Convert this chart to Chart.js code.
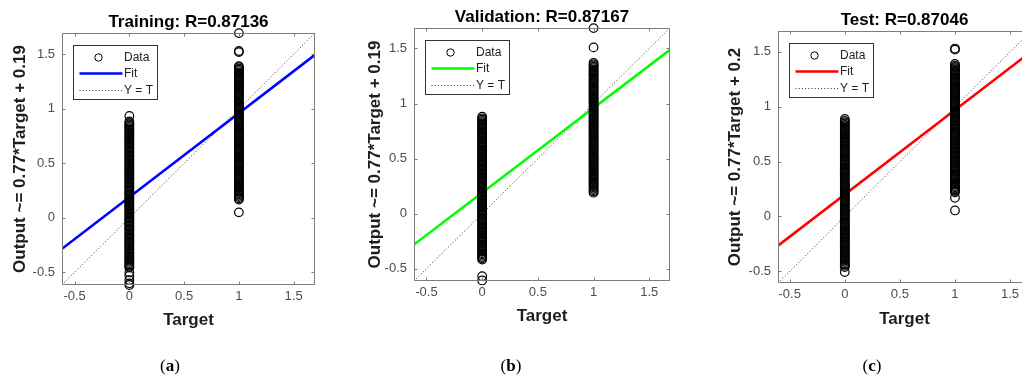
<!DOCTYPE html>
<html>
<head>
<meta charset="utf-8">
<script src="https://cdn.jsdelivr.net/npm/chart.js@4.4.1/dist/chart.umd.min.js"></script>
<style>
  html, body { margin: 0; padding: 0; background: #fff; width: 1022px; height: 383px; overflow: hidden; position: relative; }
  canvas { position: absolute; top: 0; }
  .cap { position: absolute; top: 356px; font: 17px "Liberation Serif", "DejaVu Serif", serif; color: #000; transform: translateX(-50%); }
</style>
</head>
<body>
<canvas id="pa" width="340" height="383" style="left:0"></canvas>
<canvas id="pb" width="340" height="383" style="left:340px"></canvas>
<canvas id="pc" width="360" height="383" style="left:680px"></canvas>
<div class="cap" style="left:170px">(<b>a</b>)</div>
<div class="cap" style="left:511px">(<b>b</b>)</div>
<div class="cap" style="left:872px">(<b>c</b>)</div>
<script>
// regression plots: outputs vs targets for training / validation / test
const targets = [0, 1];
const tickValues = [-0.5, 0, 0.5, 1, 1.5];
const panelTitles = ['Training: R=0.87136', 'Validation: R=0.87167', 'Test: R=0.87046'];
const yAxisTitles = ['Output ~= 0.77*Target + 0.19', 'Output ~= 0.77*Target + 0.19', 'Output ~= 0.77*Target + 0.2'];
const fitSlopes = [0.77, 0.77, 0.77];
const fitIntercepts = [0.19, 0.19, 0.2];
const axisMin = [-0.615, -0.612, -0.606];
const axisMax = [1.695, 1.686, 1.69];

// outputs for target = 0 and target = 1 (columns are dense)
const trainOut0 = [-0.615, -0.60, -0.57, -0.53, -0.50,
  -0.455, -0.447, -0.436, -0.424, -0.413, -0.401, -0.39, -0.378, -0.365, -0.355, -0.342, -0.33, -0.319, -0.307, -0.294,
  -0.283, -0.271, -0.258, -0.248, -0.235, -0.223, -0.212, -0.2, -0.187, -0.176, -0.164, -0.151, -0.141, -0.128, -0.116,
  -0.105, -0.093, -0.08, -0.069, -0.057, -0.044, -0.034, -0.021, -0.009, 0.002, 0.014, 0.027, 0.038, 0.05, 0.063, 0.073,
  0.086, 0.098, 0.109, 0.121, 0.134, 0.145, 0.157, 0.17, 0.18, 0.193, 0.205, 0.216, 0.228, 0.241, 0.252, 0.264, 0.277,
  0.287, 0.3, 0.312, 0.323, 0.335, 0.348, 0.359, 0.371, 0.384, 0.394, 0.407, 0.419, 0.43, 0.442, 0.455, 0.466, 0.478,
  0.491, 0.501, 0.514, 0.526, 0.537, 0.549, 0.562, 0.573, 0.585, 0.598, 0.608, 0.621, 0.633, 0.644, 0.656, 0.669, 0.68,
  0.692, 0.705, 0.715, 0.728, 0.74, 0.751, 0.763, 0.776, 0.787, 0.799, 0.812, 0.822, 0.835, 0.847, 0.858, 0.87, 0.885,
  0.935];
const trainOut1 = [0.051,
  0.168, 0.179, 0.191, 0.203, 0.214, 0.226, 0.238, 0.249, 0.261, 0.273, 0.284, 0.296, 0.308, 0.319, 0.331, 0.343, 0.354,
  0.366, 0.378, 0.389, 0.401, 0.413, 0.424, 0.436, 0.448, 0.459, 0.471, 0.483, 0.494, 0.506, 0.518, 0.529, 0.541, 0.553,
  0.564, 0.576, 0.588, 0.599, 0.611, 0.623, 0.634, 0.646, 0.658, 0.669, 0.681, 0.693, 0.704, 0.716, 0.728, 0.739, 0.751,
  0.763, 0.774, 0.786, 0.798, 0.809, 0.821, 0.833, 0.844, 0.856, 0.868, 0.879, 0.891, 0.903, 0.914, 0.926, 0.938, 0.949,
  0.961, 0.973, 0.984, 0.996, 1.008, 1.019, 1.031, 1.043, 1.054, 1.066, 1.078, 1.089, 1.101, 1.113, 1.124, 1.136, 1.148,
  1.159, 1.171, 1.183, 1.194, 1.206, 1.218, 1.229, 1.241, 1.253, 1.264, 1.276, 1.288, 1.299, 1.311, 1.323, 1.334, 1.346,
  1.358, 1.369, 1.381, 1.39,
  1.52, 1.53, 1.694];
const valOut0 = [-0.607, -0.568,
  -0.417, -0.405, -0.394, -0.382, -0.37, -0.359, -0.347, -0.335, -0.324, -0.312, -0.3, -0.289, -0.277, -0.265, -0.254,
  -0.242, -0.23, -0.219, -0.207, -0.195, -0.184, -0.172, -0.16, -0.149, -0.137, -0.125, -0.114, -0.102, -0.09, -0.079,
  -0.067, -0.055, -0.044, -0.032, -0.02, -0.009, 0.003, 0.015, 0.026, 0.038, 0.05, 0.061, 0.073, 0.085, 0.096, 0.108,
  0.12, 0.131, 0.143, 0.155, 0.166, 0.178, 0.19, 0.201, 0.213, 0.225, 0.236, 0.248, 0.26, 0.271, 0.283, 0.295, 0.306,
  0.318, 0.33, 0.341, 0.353, 0.365, 0.376, 0.388, 0.4, 0.411, 0.423, 0.435, 0.446, 0.458, 0.47, 0.481, 0.493, 0.505,
  0.516, 0.528, 0.54, 0.551, 0.563, 0.575, 0.586, 0.598, 0.61, 0.621, 0.633, 0.645, 0.656, 0.668, 0.68, 0.691, 0.703,
  0.715, 0.726, 0.738, 0.75, 0.761, 0.773, 0.785, 0.796, 0.808, 0.82, 0.831, 0.843, 0.855, 0.866, 0.88];
const valOut1 = [
  0.19, 0.202, 0.213, 0.225, 0.237, 0.248, 0.26, 0.272, 0.283, 0.295, 0.307, 0.318, 0.33, 0.342, 0.353, 0.365, 0.377,
  0.388, 0.4, 0.412, 0.423, 0.435, 0.447, 0.458, 0.47, 0.482, 0.493, 0.505, 0.517, 0.528, 0.54, 0.552, 0.563, 0.575,
  0.587, 0.598, 0.61, 0.622, 0.633, 0.645, 0.657, 0.668, 0.68, 0.692, 0.703, 0.715, 0.727, 0.738, 0.75, 0.762, 0.773,
  0.785, 0.797, 0.808, 0.82, 0.832, 0.843, 0.855, 0.867, 0.878, 0.89, 0.902, 0.913, 0.925, 0.937, 0.948, 0.96, 0.972,
  0.983, 0.995, 1.007, 1.018, 1.03, 1.042, 1.053, 1.065, 1.077, 1.088, 1.1, 1.112, 1.123, 1.135, 1.147, 1.158, 1.17,
  1.182, 1.193, 1.205, 1.217, 1.228, 1.24, 1.252, 1.263, 1.275, 1.287, 1.298, 1.31, 1.322, 1.333, 1.345, 1.357, 1.37,
  1.51, 1.685];
const testOut0 = [-0.506,
  -0.46, -0.448, -0.437, -0.425, -0.413, -0.402, -0.39, -0.378, -0.367, -0.355, -0.343, -0.332, -0.32, -0.308, -0.297,
  -0.285, -0.273, -0.262, -0.25, -0.238, -0.227, -0.215, -0.203, -0.192, -0.18, -0.168, -0.157, -0.145, -0.133, -0.122,
  -0.11, -0.098, -0.087, -0.075, -0.063, -0.052, -0.04, -0.028, -0.017, -0.005, 0.007, 0.018, 0.03, 0.042, 0.053, 0.065,
  0.077, 0.088, 0.1, 0.112, 0.123, 0.135, 0.147, 0.158, 0.17, 0.182, 0.193, 0.205, 0.217, 0.228, 0.24, 0.252, 0.263,
  0.275, 0.287, 0.298, 0.31, 0.322, 0.333, 0.345, 0.357, 0.368, 0.38, 0.392, 0.403, 0.415, 0.427, 0.438, 0.45, 0.462,
  0.473, 0.485, 0.497, 0.508, 0.52, 0.532, 0.543, 0.555, 0.567, 0.578, 0.59, 0.602, 0.613, 0.625, 0.637, 0.648, 0.66,
  0.672, 0.683, 0.695, 0.707, 0.718, 0.73, 0.742, 0.753, 0.765, 0.777, 0.788, 0.8, 0.812, 0.823, 0.835, 0.847, 0.858,
  0.87, 0.888];
const testOut1 = [0.055, 0.17,
  0.22, 0.232, 0.243, 0.255, 0.267, 0.278, 0.29, 0.302, 0.313, 0.325, 0.337, 0.348, 0.36, 0.372, 0.383, 0.395, 0.407,
  0.418, 0.43, 0.442, 0.453, 0.465, 0.477, 0.488, 0.5, 0.512, 0.523, 0.535, 0.547, 0.558, 0.57, 0.582, 0.593, 0.605,
  0.617, 0.628, 0.64, 0.652, 0.663, 0.675, 0.687, 0.698, 0.71, 0.722, 0.733, 0.745, 0.757, 0.768, 0.78, 0.792, 0.803,
  0.815, 0.827, 0.838, 0.85, 0.862, 0.873, 0.885, 0.897, 0.908, 0.92, 0.932, 0.943, 0.955, 0.967, 0.978, 0.99, 1.002,
  1.013, 1.025, 1.037, 1.048, 1.06, 1.072, 1.083, 1.095, 1.107, 1.118, 1.13, 1.142, 1.153, 1.165, 1.177, 1.188, 1.2,
  1.212, 1.223, 1.235, 1.247, 1.258, 1.27, 1.282, 1.293, 1.305, 1.317, 1.328, 1.34, 1.352, 1.363, 1.375, 1.39,
  1.52, 1.53];

const outputs = [[trainOut0, trainOut1], [valOut0, valOut1], [testOut0, testOut1]];
const fitColors = ['#0000ff', '#00ff00', '#ff0000'];

// where each plot box sits inside its canvas
const layouts = [
  { id: 'pa', w: 340, left: 62, right: 315, top: 33, bottom: 285, yTitleX: 20, xTitleY: 320 },
  { id: 'pb', w: 340, left: 74, right: 330, top: 28, bottom: 281, yTitleX: 35, xTitleY: 316 },
  { id: 'pc', w: 360, left: 98, right: 351, top: 31, bottom: 283, yTitleX: 55, xTitleY: 319 }
];
const TITLE_SIZE = 17;
const titleOffset = TITLE_SIZE * 1.2 / 2 + 4;

Chart.defaults.font.family = '"Liberation Sans", Arial, sans-serif';

const framePlugin = {
  id: 'frame',
  afterDatasetsDraw(chart, args, opts) {
    const { ctx, chartArea: a, scales: { x, y } } = chart;
    const L = Math.round(a.left) + 0.5, T = Math.round(a.top) + 0.5;
    const R = Math.round(a.right) - 0.5, B = Math.round(a.bottom) - 0.5;
    ctx.save();
    // axes box with inward ticks
    ctx.strokeStyle = '#7d7d7d';
    ctx.lineWidth = 1;
    ctx.strokeRect(L, T, R - L, B - T);
    ctx.beginPath();
    tickValues.forEach(v => {
      const px = Math.round(x.getPixelForValue(v)) + 0.5;
      ctx.moveTo(px, B); ctx.lineTo(px, B - 3);
      ctx.moveTo(px, T); ctx.lineTo(px, T + 3);
      const py = Math.round(y.getPixelForValue(v)) + 0.5;
      ctx.moveTo(L, py); ctx.lineTo(L + 3, py);
      ctx.moveTo(R, py); ctx.lineTo(R - 3, py);
    });
    ctx.stroke();

    // title
    ctx.fillStyle = '#000';
    ctx.font = 'bold ' + TITLE_SIZE + 'px "Liberation Sans", Arial, sans-serif';
    ctx.textAlign = 'center';
    ctx.textBaseline = 'alphabetic';
    ctx.fillText(opts.title, (a.left + a.right) / 2, a.top - 6);

    // legend box
    const bx = L + 11, by = T + 12, bw = 84, bh = 54;
    ctx.fillStyle = '#fff';
    ctx.fillRect(bx, by, bw, bh);
    ctx.strokeStyle = '#333';
    ctx.strokeRect(bx, by, bw, bh);
    const rows = [11.5, 27, 44];
    ctx.font = '12px "Liberation Sans", Arial, sans-serif';
    ctx.textAlign = 'left';
    ctx.textBaseline = 'middle';
    chart.data.datasets.forEach((d, i) => {
      const ry = Math.round(by + rows[i]) + 0.5;
      ctx.save();
      if (!d.showLine) {
        ctx.strokeStyle = '#000';
        ctx.lineWidth = 1;
        ctx.beginPath();
        ctx.arc(bx + 25, ry, 3.7, 0, Math.PI * 2);
        ctx.stroke();
      } else {
        ctx.strokeStyle = d.borderColor;
        ctx.lineWidth = d.borderWidth;
        ctx.setLineDash(d.borderDash || []);
        ctx.beginPath();
        ctx.moveTo(bx + 6, ry);
        ctx.lineTo(bx + 49, ry);
        ctx.stroke();
      }
      ctx.restore();
      ctx.fillStyle = '#222';
      ctx.fillText(d.label, bx + 50.5, ry + 0.5);
    });
    ctx.restore();
  }
};

layouts.forEach((lay, p) => {
  const min = axisMin[p], max = axisMax[p];
  const points = [];
  targets.forEach((t, k) => outputs[p][k].forEach(v => points.push({ x: t, y: v })));
  const fitLine = [min, max].map(t => ({ x: t, y: fitSlopes[p] * t + fitIntercepts[p] }));
  const idLine = [min, max].map(t => ({ x: t, y: t }));

  const tickOpts = (pad) => ({
    color: '#4d4d4d',
    padding: pad,
    maxRotation: 0,
    autoSkip: false,
    font: { size: 13 },
    callback: v => String(v)
  });
  const axisTitle = (text) => ({
    display: true, text: text, color: '#1e1e1e',
    font: { size: TITLE_SIZE, weight: 'bold' }, padding: { top: 4, bottom: 4 }
  });

  new Chart(document.getElementById(lay.id), {
    type: 'scatter',
    data: {
      datasets: [
        { label: 'Data', data: points, showLine: false, pointStyle: 'circle', pointRadius: 4.3,
          pointBorderWidth: 1.2, pointBorderColor: '#000', pointBackgroundColor: 'rgba(0,0,0,0)',
          order: 0, clip: false },
        { label: 'Fit', data: fitLine, showLine: true, borderColor: fitColors[p], borderWidth: 2.6,
          pointRadius: 0, order: 1 },
        { label: 'Y = T', data: idLine, showLine: true, borderColor: '#333', borderWidth: 1,
          borderDash: [1, 2.2], pointRadius: 0, order: 2 }
      ]
    },
    options: {
      responsive: false,
      animation: false,
      events: [],
      layout: {
        padding: {
          left: lay.yTitleX - titleOffset,
          right: lay.w - lay.right,
          top: lay.top,
          bottom: 383 - (lay.xTitleY + titleOffset)
        }
      },
      plugins: {
        legend: { display: false },
        tooltip: { enabled: false },
        frame: { title: panelTitles[p] }
      },
      scales: {
        x: {
          type: 'linear', min: min, max: max,
          afterBuildTicks: s => { s.ticks = tickValues.map(v => ({ value: v })); },
          afterFit: s => { s.height = lay.xTitleY + titleOffset - lay.bottom; },
          ticks: tickOpts(4),
          grid: { display: false, drawTicks: false },
          border: { display: false },
          title: axisTitle('Target')
        },
        y: {
          type: 'linear', min: min, max: max,
          afterBuildTicks: s => { s.ticks = tickValues.map(v => ({ value: v })); },
          afterFit: s => { s.width = lay.left - (lay.yTitleX - titleOffset); },
          ticks: tickOpts(7),
          grid: { display: false, drawTicks: false },
          border: { display: false },
          title: axisTitle(yAxisTitles[p])
        }
      }
    },
    plugins: [framePlugin]
  });
});
</script>
</body>
</html>
